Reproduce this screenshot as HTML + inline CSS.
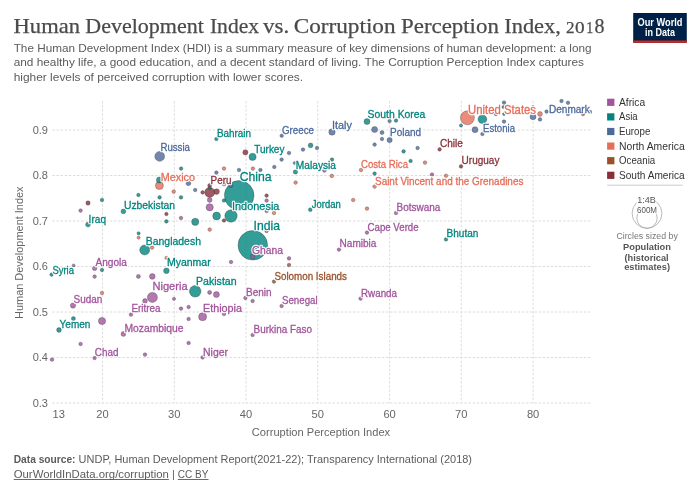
<!DOCTYPE html>
<html><head><meta charset="utf-8">
<style>
html,body{margin:0;padding:0;background:#fff;}
body{width:700px;height:494px;position:relative;overflow:hidden;}
svg{will-change:transform;}
</style></head><body>
<svg width="700" height="494" viewBox="0 0 700 494" style="position:absolute;left:0;top:0;display:block">
<text x="13.62" y="32.7" font-family="Liberation Serif, serif" fill="#4a4a4a" stroke="#4a4a4a" stroke-width="0.25" lengthAdjust="spacingAndGlyphs" font-size="22" textLength="66.29">Human</text>
<text x="85.34" y="32.7" font-family="Liberation Serif, serif" fill="#4a4a4a" stroke="#4a4a4a" stroke-width="0.25" lengthAdjust="spacingAndGlyphs" font-size="22" textLength="118.51">Development</text>
<text x="209.95" y="32.7" font-family="Liberation Serif, serif" fill="#4a4a4a" stroke="#4a4a4a" stroke-width="0.25" lengthAdjust="spacingAndGlyphs" font-size="22" textLength="49.11">Index</text>
<text x="263.1" y="32.7" font-family="Liberation Serif, serif" fill="#4a4a4a" stroke="#4a4a4a" stroke-width="0.25" lengthAdjust="spacingAndGlyphs" font-size="22" textLength="26.17">vs.</text>
<text x="293.67" y="32.7" font-family="Liberation Serif, serif" fill="#4a4a4a" stroke="#4a4a4a" stroke-width="0.25" lengthAdjust="spacingAndGlyphs" font-size="22" textLength="101.95">Corruption</text>
<text x="401.01" y="32.7" font-family="Liberation Serif, serif" fill="#4a4a4a" stroke="#4a4a4a" stroke-width="0.25" lengthAdjust="spacingAndGlyphs" font-size="22" textLength="97.86">Perception</text>
<text x="504.22" y="32.7" font-family="Liberation Serif, serif" fill="#4a4a4a" stroke="#4a4a4a" stroke-width="0.25" lengthAdjust="spacingAndGlyphs" font-size="22" textLength="56.67">Index,</text>
<text x="566" y="32.7" font-family="Liberation Serif, serif" fill="#4a4a4a" stroke="#4a4a4a" stroke-width="0.25" lengthAdjust="spacingAndGlyphs" font-size="16.5" textLength="8.6">2</text>
<text x="575" y="32.7" font-family="Liberation Serif, serif" fill="#4a4a4a" stroke="#4a4a4a" stroke-width="0.25" lengthAdjust="spacingAndGlyphs" font-size="16.5" textLength="9.6">0</text>
<text x="586.2" y="32.7" font-family="Liberation Serif, serif" fill="#4a4a4a" stroke="#4a4a4a" stroke-width="0.25" lengthAdjust="spacingAndGlyphs" font-size="16.5" textLength="7">1</text>
<text x="594.6" y="32.7" font-family="Liberation Serif, serif" fill="#4a4a4a" stroke="#4a4a4a" stroke-width="0.25" lengthAdjust="spacingAndGlyphs" font-size="22" textLength="10">8</text>
<text x="13.7" y="52.0" font-size="11.4" fill="#5b5b5b" textLength="577.8" lengthAdjust="spacingAndGlyphs" font-family="Liberation Sans, sans-serif">The Human Development Index (HDI) is a summary measure of key dimensions of human development: a long</text>
<text x="13.7" y="66.3" font-size="11.4" fill="#5b5b5b" textLength="570.3" lengthAdjust="spacingAndGlyphs" font-family="Liberation Sans, sans-serif">and healthy life, a good education, and a decent standard of living. The Corruption Perception Index captures</text>
<text x="13.7" y="80.9" font-size="11.4" fill="#5b5b5b" textLength="289.4" lengthAdjust="spacingAndGlyphs" font-family="Liberation Sans, sans-serif">higher levels of perceived corruption with lower scores.</text>
<rect x="633.2" y="13" width="53.6" height="29.8" fill="#002147"/>
<rect x="633.2" y="40.5" width="53.6" height="2.3" fill="#ce261e"/>
<text x="637.5" y="25.5" font-size="10.8" fill="#fff" font-weight="bold" textLength="45.0" lengthAdjust="spacingAndGlyphs" font-family="Liberation Sans, sans-serif">Our World</text>
<text x="645.0" y="35.6" font-size="10.8" fill="#fff" font-weight="bold" textLength="30.0" lengthAdjust="spacingAndGlyphs" font-family="Liberation Sans, sans-serif">in Data</text>
<g stroke="#dcdcdc" stroke-width="1" stroke-dasharray="2.47,1.65" fill="none"><line x1="52.3" y1="403.0" x2="590.5" y2="403.0"/><line x1="52.3" y1="357.5" x2="590.5" y2="357.5"/><line x1="52.3" y1="312.0" x2="590.5" y2="312.0"/><line x1="52.3" y1="266.5" x2="590.5" y2="266.5"/><line x1="52.3" y1="221.0" x2="590.5" y2="221.0"/><line x1="52.3" y1="175.5" x2="590.5" y2="175.5"/><line x1="52.3" y1="130.0" x2="590.5" y2="130.0"/><line x1="102.5" y1="101.0" x2="102.5" y2="403.1"/><line x1="174.3" y1="101.0" x2="174.3" y2="403.1"/><line x1="246.0" y1="101.0" x2="246.0" y2="403.1"/><line x1="317.8" y1="101.0" x2="317.8" y2="403.1"/><line x1="389.6" y1="101.0" x2="389.6" y2="403.1"/><line x1="461.3" y1="101.0" x2="461.3" y2="403.1"/><line x1="533.1" y1="101.0" x2="533.1" y2="403.1"/></g>
<g font-family="Liberation Sans, sans-serif"><text x="48.0" y="406.9" font-size="11" fill="#666" text-anchor="end" textLength="15.3" lengthAdjust="spacingAndGlyphs">0.3</text><text x="48.0" y="361.4" font-size="11" fill="#666" text-anchor="end" textLength="15.3" lengthAdjust="spacingAndGlyphs">0.4</text><text x="48.0" y="315.9" font-size="11" fill="#666" text-anchor="end" textLength="15.3" lengthAdjust="spacingAndGlyphs">0.5</text><text x="48.0" y="270.4" font-size="11" fill="#666" text-anchor="end" textLength="15.3" lengthAdjust="spacingAndGlyphs">0.6</text><text x="48.0" y="224.9" font-size="11" fill="#666" text-anchor="end" textLength="15.3" lengthAdjust="spacingAndGlyphs">0.7</text><text x="48.0" y="179.4" font-size="11" fill="#666" text-anchor="end" textLength="15.3" lengthAdjust="spacingAndGlyphs">0.8</text><text x="48.0" y="133.9" font-size="11" fill="#666" text-anchor="end" textLength="15.3" lengthAdjust="spacingAndGlyphs">0.9</text><text x="102.5" y="418.3" font-size="11" fill="#666" text-anchor="middle" textLength="12.4" lengthAdjust="spacingAndGlyphs">20</text><text x="174.3" y="418.3" font-size="11" fill="#666" text-anchor="middle" textLength="12.4" lengthAdjust="spacingAndGlyphs">30</text><text x="246.0" y="418.3" font-size="11" fill="#666" text-anchor="middle" textLength="12.4" lengthAdjust="spacingAndGlyphs">40</text><text x="317.8" y="418.3" font-size="11" fill="#666" text-anchor="middle" textLength="12.4" lengthAdjust="spacingAndGlyphs">50</text><text x="389.6" y="418.3" font-size="11" fill="#666" text-anchor="middle" textLength="12.4" lengthAdjust="spacingAndGlyphs">60</text><text x="461.3" y="418.3" font-size="11" fill="#666" text-anchor="middle" textLength="12.4" lengthAdjust="spacingAndGlyphs">70</text><text x="533.1" y="418.3" font-size="11" fill="#666" text-anchor="middle" textLength="12.4" lengthAdjust="spacingAndGlyphs">80</text><text x="52.6" y="418.3" font-size="11" fill="#666" textLength="12.4" lengthAdjust="spacingAndGlyphs">13</text></g>
<text x="321.0" y="435.5" font-size="11" fill="#666" text-anchor="middle" textLength="138.3" lengthAdjust="spacingAndGlyphs" font-family="Liberation Sans, sans-serif">Corruption Perception Index</text>
<text transform="translate(23.2,252.7) rotate(-90)" text-anchor="middle" font-family="Liberation Sans, sans-serif" font-size="11" fill="#666" textLength="132.5" lengthAdjust="spacingAndGlyphs">Human Development Index</text>
<g><circle cx="239.2" cy="195.4" r="14.8" fill="#00847e" fill-opacity="0.8" stroke="#333" stroke-opacity="0.55" stroke-width="0.6"/><circle cx="252.8" cy="245.3" r="14.8" fill="#00847e" fill-opacity="0.8" stroke="#333" stroke-opacity="0.55" stroke-width="0.6"/><circle cx="467.4" cy="117.8" r="7" fill="#e56e5a" fill-opacity="0.8" stroke="#333" stroke-opacity="0.55" stroke-width="0.6"/><circle cx="231" cy="216" r="6.2" fill="#00847e" fill-opacity="0.8" stroke="#333" stroke-opacity="0.55" stroke-width="0.6"/><circle cx="195.2" cy="291.3" r="5.8" fill="#00847e" fill-opacity="0.8" stroke="#333" stroke-opacity="0.55" stroke-width="0.6"/><circle cx="152.4" cy="297.4" r="5" fill="#a2559c" fill-opacity="0.8" stroke="#333" stroke-opacity="0.55" stroke-width="0.6"/><circle cx="144.7" cy="250" r="5" fill="#00847e" fill-opacity="0.8" stroke="#333" stroke-opacity="0.55" stroke-width="0.6"/><circle cx="209.7" cy="192.4" r="5" fill="#883039" fill-opacity="0.8" stroke="#333" stroke-opacity="0.55" stroke-width="0.6"/><circle cx="159.7" cy="156.4" r="4.9" fill="#4c6a9c" fill-opacity="0.8" stroke="#333" stroke-opacity="0.55" stroke-width="0.6"/><circle cx="482.4" cy="119.2" r="4.4" fill="#00847e" fill-opacity="0.8" stroke="#333" stroke-opacity="0.55" stroke-width="0.6"/><circle cx="202.6" cy="316.8" r="4" fill="#a2559c" fill-opacity="0.8" stroke="#333" stroke-opacity="0.55" stroke-width="0.6"/><circle cx="159.4" cy="185.6" r="4" fill="#e56e5a" fill-opacity="0.8" stroke="#333" stroke-opacity="0.55" stroke-width="0.6"/><circle cx="216.6" cy="216" r="3.9" fill="#00847e" fill-opacity="0.8" stroke="#333" stroke-opacity="0.55" stroke-width="0.6"/><circle cx="102" cy="321" r="3.6" fill="#a2559c" fill-opacity="0.8" stroke="#333" stroke-opacity="0.55" stroke-width="0.6"/><circle cx="209.7" cy="207.3" r="3.6" fill="#a2559c" fill-opacity="0.8" stroke="#333" stroke-opacity="0.55" stroke-width="0.6"/><circle cx="252.6" cy="156.9" r="3.6" fill="#00847e" fill-opacity="0.8" stroke="#333" stroke-opacity="0.55" stroke-width="0.6"/><circle cx="195.2" cy="221.8" r="3.6" fill="#00847e" fill-opacity="0.8" stroke="#333" stroke-opacity="0.55" stroke-width="0.6"/><circle cx="332" cy="132" r="3.2" fill="#4c6a9c" fill-opacity="0.8" stroke="#333" stroke-opacity="0.55" stroke-width="0.6"/><circle cx="216.4" cy="294.6" r="3" fill="#a2559c" fill-opacity="0.8" stroke="#333" stroke-opacity="0.55" stroke-width="0.6"/><circle cx="159.4" cy="180" r="3" fill="#00847e" fill-opacity="0.8" stroke="#333" stroke-opacity="0.55" stroke-width="0.6"/><circle cx="367" cy="121.6" r="3" fill="#00847e" fill-opacity="0.8" stroke="#333" stroke-opacity="0.55" stroke-width="0.6"/><circle cx="374.6" cy="129.6" r="3" fill="#4c6a9c" fill-opacity="0.8" stroke="#333" stroke-opacity="0.55" stroke-width="0.6"/><circle cx="475" cy="129.7" r="3" fill="#4c6a9c" fill-opacity="0.8" stroke="#333" stroke-opacity="0.55" stroke-width="0.6"/><circle cx="533" cy="116.8" r="3" fill="#4c6a9c" fill-opacity="0.8" stroke="#333" stroke-opacity="0.55" stroke-width="0.6"/><circle cx="152.3" cy="276.4" r="2.8" fill="#a2559c" fill-opacity="0.8" stroke="#333" stroke-opacity="0.55" stroke-width="0.6"/><circle cx="166.4" cy="270.7" r="2.8" fill="#00847e" fill-opacity="0.8" stroke="#333" stroke-opacity="0.55" stroke-width="0.6"/><circle cx="216.6" cy="191.6" r="2.8" fill="#883039" fill-opacity="0.8" stroke="#333" stroke-opacity="0.55" stroke-width="0.6"/><circle cx="73" cy="305.6" r="2.6" fill="#a2559c" fill-opacity="0.8" stroke="#333" stroke-opacity="0.55" stroke-width="0.6"/><circle cx="389.6" cy="140" r="2.6" fill="#4c6a9c" fill-opacity="0.8" stroke="#333" stroke-opacity="0.55" stroke-width="0.6"/><circle cx="245.4" cy="152.3" r="2.6" fill="#883039" fill-opacity="0.8" stroke="#333" stroke-opacity="0.55" stroke-width="0.6"/><circle cx="145" cy="301" r="2.4" fill="#a2559c" fill-opacity="0.8" stroke="#333" stroke-opacity="0.55" stroke-width="0.6"/><circle cx="123.4" cy="334" r="2.4" fill="#a2559c" fill-opacity="0.8" stroke="#333" stroke-opacity="0.55" stroke-width="0.6"/><circle cx="209.7" cy="200" r="2.4" fill="#a2559c" fill-opacity="0.8" stroke="#333" stroke-opacity="0.55" stroke-width="0.6"/><circle cx="123.4" cy="211.4" r="2.4" fill="#00847e" fill-opacity="0.8" stroke="#333" stroke-opacity="0.55" stroke-width="0.6"/><circle cx="88" cy="224.6" r="2.4" fill="#00847e" fill-opacity="0.8" stroke="#333" stroke-opacity="0.55" stroke-width="0.6"/><circle cx="59" cy="330" r="2.4" fill="#00847e" fill-opacity="0.8" stroke="#333" stroke-opacity="0.55" stroke-width="0.6"/><circle cx="310.6" cy="145.4" r="2.4" fill="#00847e" fill-opacity="0.8" stroke="#333" stroke-opacity="0.55" stroke-width="0.6"/><circle cx="188.4" cy="183.3" r="2.4" fill="#4c6a9c" fill-opacity="0.8" stroke="#333" stroke-opacity="0.55" stroke-width="0.6"/><circle cx="540" cy="114" r="2.4" fill="#e56e5a" fill-opacity="0.8" stroke="#333" stroke-opacity="0.55" stroke-width="0.6"/><circle cx="94.6" cy="268.4" r="2.2" fill="#a2559c" fill-opacity="0.8" stroke="#333" stroke-opacity="0.55" stroke-width="0.6"/><circle cx="252.6" cy="256.6" r="2.2" fill="#a2559c" fill-opacity="0.8" stroke="#333" stroke-opacity="0.55" stroke-width="0.6"/><circle cx="295.4" cy="171.9" r="2.2" fill="#00847e" fill-opacity="0.8" stroke="#333" stroke-opacity="0.55" stroke-width="0.6"/><circle cx="88" cy="203" r="2.2" fill="#883039" fill-opacity="0.8" stroke="#333" stroke-opacity="0.55" stroke-width="0.6"/><circle cx="138.4" cy="276.4" r="2" fill="#a2559c" fill-opacity="0.8" stroke="#333" stroke-opacity="0.55" stroke-width="0.6"/><circle cx="209.6" cy="292.4" r="2" fill="#a2559c" fill-opacity="0.8" stroke="#333" stroke-opacity="0.55" stroke-width="0.6"/><circle cx="73.4" cy="318.6" r="2" fill="#00847e" fill-opacity="0.8" stroke="#333" stroke-opacity="0.55" stroke-width="0.6"/><circle cx="382" cy="132.6" r="2" fill="#4c6a9c" fill-opacity="0.8" stroke="#333" stroke-opacity="0.55" stroke-width="0.6"/><circle cx="209.7" cy="185.6" r="2" fill="#883039" fill-opacity="0.8" stroke="#333" stroke-opacity="0.55" stroke-width="0.6"/><circle cx="310.3" cy="209.7" r="1.9" fill="#00847e" fill-opacity="0.8" stroke="#333" stroke-opacity="0.55" stroke-width="0.6"/><circle cx="80.6" cy="210.6" r="1.8" fill="#a2559c" fill-opacity="0.8" stroke="#333" stroke-opacity="0.55" stroke-width="0.6"/><circle cx="181" cy="218" r="1.8" fill="#a2559c" fill-opacity="0.8" stroke="#333" stroke-opacity="0.55" stroke-width="0.6"/><circle cx="94.6" cy="276.6" r="1.8" fill="#a2559c" fill-opacity="0.8" stroke="#333" stroke-opacity="0.55" stroke-width="0.6"/><circle cx="131" cy="314.6" r="1.8" fill="#a2559c" fill-opacity="0.8" stroke="#333" stroke-opacity="0.55" stroke-width="0.6"/><circle cx="181" cy="308.6" r="1.8" fill="#a2559c" fill-opacity="0.8" stroke="#333" stroke-opacity="0.55" stroke-width="0.6"/><circle cx="188.6" cy="307" r="1.8" fill="#a2559c" fill-opacity="0.8" stroke="#333" stroke-opacity="0.55" stroke-width="0.6"/><circle cx="188.6" cy="319" r="1.8" fill="#a2559c" fill-opacity="0.8" stroke="#333" stroke-opacity="0.55" stroke-width="0.6"/><circle cx="80.6" cy="344" r="1.8" fill="#a2559c" fill-opacity="0.8" stroke="#333" stroke-opacity="0.55" stroke-width="0.6"/><circle cx="188.6" cy="343" r="1.8" fill="#a2559c" fill-opacity="0.8" stroke="#333" stroke-opacity="0.55" stroke-width="0.6"/><circle cx="94.6" cy="358" r="1.8" fill="#a2559c" fill-opacity="0.8" stroke="#333" stroke-opacity="0.55" stroke-width="0.6"/><circle cx="145" cy="354.6" r="1.8" fill="#a2559c" fill-opacity="0.8" stroke="#333" stroke-opacity="0.55" stroke-width="0.6"/><circle cx="52" cy="359.6" r="1.8" fill="#a2559c" fill-opacity="0.8" stroke="#333" stroke-opacity="0.55" stroke-width="0.6"/><circle cx="266.6" cy="200.6" r="1.8" fill="#a2559c" fill-opacity="0.8" stroke="#333" stroke-opacity="0.55" stroke-width="0.6"/><circle cx="266.6" cy="211" r="1.8" fill="#a2559c" fill-opacity="0.8" stroke="#333" stroke-opacity="0.55" stroke-width="0.6"/><circle cx="231" cy="262" r="1.8" fill="#a2559c" fill-opacity="0.8" stroke="#333" stroke-opacity="0.55" stroke-width="0.6"/><circle cx="289" cy="258.4" r="1.8" fill="#a2559c" fill-opacity="0.8" stroke="#333" stroke-opacity="0.55" stroke-width="0.6"/><circle cx="245.4" cy="298" r="1.8" fill="#a2559c" fill-opacity="0.8" stroke="#333" stroke-opacity="0.55" stroke-width="0.6"/><circle cx="252.6" cy="301" r="1.8" fill="#a2559c" fill-opacity="0.8" stroke="#333" stroke-opacity="0.55" stroke-width="0.6"/><circle cx="281.6" cy="306" r="1.8" fill="#a2559c" fill-opacity="0.8" stroke="#333" stroke-opacity="0.55" stroke-width="0.6"/><circle cx="224" cy="314" r="1.8" fill="#a2559c" fill-opacity="0.8" stroke="#333" stroke-opacity="0.55" stroke-width="0.6"/><circle cx="252.6" cy="335" r="1.8" fill="#a2559c" fill-opacity="0.8" stroke="#333" stroke-opacity="0.55" stroke-width="0.6"/><circle cx="202.6" cy="357.4" r="1.8" fill="#a2559c" fill-opacity="0.8" stroke="#333" stroke-opacity="0.55" stroke-width="0.6"/><circle cx="324.4" cy="170.6" r="1.8" fill="#a2559c" fill-opacity="0.8" stroke="#333" stroke-opacity="0.55" stroke-width="0.6"/><circle cx="432" cy="174.6" r="1.8" fill="#a2559c" fill-opacity="0.8" stroke="#333" stroke-opacity="0.55" stroke-width="0.6"/><circle cx="396" cy="213" r="1.8" fill="#a2559c" fill-opacity="0.8" stroke="#333" stroke-opacity="0.55" stroke-width="0.6"/><circle cx="367" cy="232.6" r="1.8" fill="#a2559c" fill-opacity="0.8" stroke="#333" stroke-opacity="0.55" stroke-width="0.6"/><circle cx="339" cy="249.6" r="1.8" fill="#a2559c" fill-opacity="0.8" stroke="#333" stroke-opacity="0.55" stroke-width="0.6"/><circle cx="360.6" cy="298.6" r="1.8" fill="#a2559c" fill-opacity="0.8" stroke="#333" stroke-opacity="0.55" stroke-width="0.6"/><circle cx="266.6" cy="231" r="1.8" fill="#a2559c" fill-opacity="0.8" stroke="#333" stroke-opacity="0.55" stroke-width="0.6"/><circle cx="181.1" cy="168.6" r="1.8" fill="#00847e" fill-opacity="0.8" stroke="#333" stroke-opacity="0.55" stroke-width="0.6"/><circle cx="138.4" cy="195" r="1.8" fill="#00847e" fill-opacity="0.8" stroke="#333" stroke-opacity="0.55" stroke-width="0.6"/><circle cx="159.6" cy="197.4" r="1.8" fill="#00847e" fill-opacity="0.8" stroke="#333" stroke-opacity="0.55" stroke-width="0.6"/><circle cx="181" cy="197.4" r="1.8" fill="#00847e" fill-opacity="0.8" stroke="#333" stroke-opacity="0.55" stroke-width="0.6"/><circle cx="102" cy="200" r="1.8" fill="#00847e" fill-opacity="0.8" stroke="#333" stroke-opacity="0.55" stroke-width="0.6"/><circle cx="166.4" cy="221.4" r="1.8" fill="#00847e" fill-opacity="0.8" stroke="#333" stroke-opacity="0.55" stroke-width="0.6"/><circle cx="51.6" cy="274.6" r="1.8" fill="#00847e" fill-opacity="0.8" stroke="#333" stroke-opacity="0.55" stroke-width="0.6"/><circle cx="102" cy="270" r="1.8" fill="#00847e" fill-opacity="0.8" stroke="#333" stroke-opacity="0.55" stroke-width="0.6"/><circle cx="216.4" cy="139" r="1.8" fill="#00847e" fill-opacity="0.8" stroke="#333" stroke-opacity="0.55" stroke-width="0.6"/><circle cx="224" cy="200.5" r="1.8" fill="#00847e" fill-opacity="0.8" stroke="#333" stroke-opacity="0.55" stroke-width="0.6"/><circle cx="396" cy="120.6" r="1.8" fill="#00847e" fill-opacity="0.8" stroke="#333" stroke-opacity="0.55" stroke-width="0.6"/><circle cx="403.6" cy="151.4" r="1.8" fill="#00847e" fill-opacity="0.8" stroke="#333" stroke-opacity="0.55" stroke-width="0.6"/><circle cx="332" cy="159.6" r="1.8" fill="#00847e" fill-opacity="0.8" stroke="#333" stroke-opacity="0.55" stroke-width="0.6"/><circle cx="410.6" cy="161" r="1.8" fill="#00847e" fill-opacity="0.8" stroke="#333" stroke-opacity="0.55" stroke-width="0.6"/><circle cx="374.6" cy="173.6" r="1.8" fill="#00847e" fill-opacity="0.8" stroke="#333" stroke-opacity="0.55" stroke-width="0.6"/><circle cx="446" cy="239.4" r="1.8" fill="#00847e" fill-opacity="0.8" stroke="#333" stroke-opacity="0.55" stroke-width="0.6"/><circle cx="195.2" cy="190" r="1.8" fill="#4c6a9c" fill-opacity="0.8" stroke="#333" stroke-opacity="0.55" stroke-width="0.6"/><circle cx="216.4" cy="172.6" r="1.8" fill="#4c6a9c" fill-opacity="0.8" stroke="#333" stroke-opacity="0.55" stroke-width="0.6"/><circle cx="239" cy="170" r="1.8" fill="#4c6a9c" fill-opacity="0.8" stroke="#333" stroke-opacity="0.55" stroke-width="0.6"/><circle cx="260.4" cy="170" r="1.8" fill="#4c6a9c" fill-opacity="0.8" stroke="#333" stroke-opacity="0.55" stroke-width="0.6"/><circle cx="274.3" cy="167" r="1.8" fill="#4c6a9c" fill-opacity="0.8" stroke="#333" stroke-opacity="0.55" stroke-width="0.6"/><circle cx="224" cy="184.2" r="1.8" fill="#4c6a9c" fill-opacity="0.8" stroke="#333" stroke-opacity="0.55" stroke-width="0.6"/><circle cx="231" cy="185.8" r="1.8" fill="#4c6a9c" fill-opacity="0.8" stroke="#333" stroke-opacity="0.55" stroke-width="0.6"/><circle cx="281.7" cy="135.7" r="1.8" fill="#4c6a9c" fill-opacity="0.8" stroke="#333" stroke-opacity="0.55" stroke-width="0.6"/><circle cx="289" cy="153" r="1.8" fill="#4c6a9c" fill-opacity="0.8" stroke="#333" stroke-opacity="0.55" stroke-width="0.6"/><circle cx="303" cy="149.6" r="1.8" fill="#4c6a9c" fill-opacity="0.8" stroke="#333" stroke-opacity="0.55" stroke-width="0.6"/><circle cx="317" cy="148" r="1.8" fill="#4c6a9c" fill-opacity="0.8" stroke="#333" stroke-opacity="0.55" stroke-width="0.6"/><circle cx="281.6" cy="159.6" r="1.8" fill="#4c6a9c" fill-opacity="0.8" stroke="#333" stroke-opacity="0.55" stroke-width="0.6"/><circle cx="382" cy="139" r="1.8" fill="#4c6a9c" fill-opacity="0.8" stroke="#333" stroke-opacity="0.55" stroke-width="0.6"/><circle cx="374.6" cy="144.6" r="1.8" fill="#4c6a9c" fill-opacity="0.8" stroke="#333" stroke-opacity="0.55" stroke-width="0.6"/><circle cx="389.6" cy="121" r="1.8" fill="#4c6a9c" fill-opacity="0.8" stroke="#333" stroke-opacity="0.55" stroke-width="0.6"/><circle cx="417.6" cy="148" r="1.8" fill="#4c6a9c" fill-opacity="0.8" stroke="#333" stroke-opacity="0.55" stroke-width="0.6"/><circle cx="482.4" cy="134" r="1.8" fill="#4c6a9c" fill-opacity="0.8" stroke="#333" stroke-opacity="0.55" stroke-width="0.6"/><circle cx="504" cy="102.6" r="1.8" fill="#4c6a9c" fill-opacity="0.8" stroke="#333" stroke-opacity="0.55" stroke-width="0.6"/><circle cx="504" cy="121.6" r="1.8" fill="#4c6a9c" fill-opacity="0.8" stroke="#333" stroke-opacity="0.55" stroke-width="0.6"/><circle cx="496" cy="114" r="1.8" fill="#4c6a9c" fill-opacity="0.8" stroke="#333" stroke-opacity="0.55" stroke-width="0.6"/><circle cx="540" cy="119.4" r="1.8" fill="#4c6a9c" fill-opacity="0.8" stroke="#333" stroke-opacity="0.55" stroke-width="0.6"/><circle cx="546.6" cy="111.6" r="1.8" fill="#4c6a9c" fill-opacity="0.8" stroke="#333" stroke-opacity="0.55" stroke-width="0.6"/><circle cx="561.5" cy="101" r="1.8" fill="#4c6a9c" fill-opacity="0.8" stroke="#333" stroke-opacity="0.55" stroke-width="0.6"/><circle cx="568" cy="102.8" r="1.8" fill="#4c6a9c" fill-opacity="0.8" stroke="#333" stroke-opacity="0.55" stroke-width="0.6"/><circle cx="568" cy="114" r="1.8" fill="#4c6a9c" fill-opacity="0.8" stroke="#333" stroke-opacity="0.55" stroke-width="0.6"/><circle cx="590" cy="112" r="1.8" fill="#4c6a9c" fill-opacity="0.8" stroke="#333" stroke-opacity="0.55" stroke-width="0.6"/><circle cx="173.7" cy="191.6" r="1.8" fill="#e56e5a" fill-opacity="0.8" stroke="#333" stroke-opacity="0.55" stroke-width="0.6"/><circle cx="152.1" cy="247.6" r="1.8" fill="#e56e5a" fill-opacity="0.8" stroke="#333" stroke-opacity="0.55" stroke-width="0.6"/><circle cx="102" cy="293" r="1.8" fill="#e56e5a" fill-opacity="0.8" stroke="#333" stroke-opacity="0.55" stroke-width="0.6"/><circle cx="224" cy="168.6" r="1.8" fill="#e56e5a" fill-opacity="0.8" stroke="#333" stroke-opacity="0.55" stroke-width="0.6"/><circle cx="252.9" cy="168.6" r="1.8" fill="#e56e5a" fill-opacity="0.8" stroke="#333" stroke-opacity="0.55" stroke-width="0.6"/><circle cx="295.6" cy="182.6" r="1.8" fill="#e56e5a" fill-opacity="0.8" stroke="#333" stroke-opacity="0.55" stroke-width="0.6"/><circle cx="209.7" cy="229.6" r="1.8" fill="#e56e5a" fill-opacity="0.8" stroke="#333" stroke-opacity="0.55" stroke-width="0.6"/><circle cx="274" cy="213" r="1.8" fill="#e56e5a" fill-opacity="0.8" stroke="#333" stroke-opacity="0.55" stroke-width="0.6"/><circle cx="425" cy="162.6" r="1.8" fill="#e56e5a" fill-opacity="0.8" stroke="#333" stroke-opacity="0.55" stroke-width="0.6"/><circle cx="361" cy="170" r="1.8" fill="#e56e5a" fill-opacity="0.8" stroke="#333" stroke-opacity="0.55" stroke-width="0.6"/><circle cx="331.8" cy="175.9" r="1.8" fill="#e56e5a" fill-opacity="0.8" stroke="#333" stroke-opacity="0.55" stroke-width="0.6"/><circle cx="446" cy="175.8" r="1.8" fill="#e56e5a" fill-opacity="0.8" stroke="#333" stroke-opacity="0.55" stroke-width="0.6"/><circle cx="374.6" cy="186.6" r="1.8" fill="#e56e5a" fill-opacity="0.8" stroke="#333" stroke-opacity="0.55" stroke-width="0.6"/><circle cx="353.2" cy="200" r="1.8" fill="#e56e5a" fill-opacity="0.8" stroke="#333" stroke-opacity="0.55" stroke-width="0.6"/><circle cx="367" cy="208.6" r="1.8" fill="#e56e5a" fill-opacity="0.8" stroke="#333" stroke-opacity="0.55" stroke-width="0.6"/><circle cx="289" cy="265" r="1.8" fill="#9a5129" fill-opacity="0.8" stroke="#333" stroke-opacity="0.55" stroke-width="0.6"/><circle cx="274" cy="281.6" r="1.8" fill="#9a5129" fill-opacity="0.8" stroke="#333" stroke-opacity="0.55" stroke-width="0.6"/><circle cx="583" cy="114" r="1.8" fill="#9a5129" fill-opacity="0.8" stroke="#333" stroke-opacity="0.55" stroke-width="0.6"/><circle cx="166.4" cy="214" r="1.8" fill="#883039" fill-opacity="0.8" stroke="#333" stroke-opacity="0.55" stroke-width="0.6"/><circle cx="202.6" cy="192.4" r="1.8" fill="#883039" fill-opacity="0.8" stroke="#333" stroke-opacity="0.55" stroke-width="0.6"/><circle cx="224" cy="220.5" r="1.8" fill="#883039" fill-opacity="0.8" stroke="#333" stroke-opacity="0.55" stroke-width="0.6"/><circle cx="266.6" cy="195.6" r="1.8" fill="#883039" fill-opacity="0.8" stroke="#333" stroke-opacity="0.55" stroke-width="0.6"/><circle cx="439.6" cy="149.4" r="1.8" fill="#883039" fill-opacity="0.8" stroke="#333" stroke-opacity="0.55" stroke-width="0.6"/><circle cx="461" cy="166.4" r="1.8" fill="#883039" fill-opacity="0.8" stroke="#333" stroke-opacity="0.55" stroke-width="0.6"/><circle cx="174" cy="298.8" r="1.6" fill="#a2559c" fill-opacity="0.8" stroke="#333" stroke-opacity="0.55" stroke-width="0.6"/><circle cx="138.6" cy="233.3" r="1.6" fill="#00847e" fill-opacity="0.8" stroke="#333" stroke-opacity="0.55" stroke-width="0.6"/><circle cx="461" cy="125.5" r="1.6" fill="#00847e" fill-opacity="0.8" stroke="#333" stroke-opacity="0.55" stroke-width="0.6"/><circle cx="138.6" cy="237.6" r="1.6" fill="#e56e5a" fill-opacity="0.8" stroke="#333" stroke-opacity="0.55" stroke-width="0.6"/><circle cx="166.4" cy="257.9" r="1.6" fill="#e56e5a" fill-opacity="0.8" stroke="#333" stroke-opacity="0.55" stroke-width="0.6"/><circle cx="73.6" cy="265.4" r="1.5" fill="#a2559c" fill-opacity="0.8" stroke="#333" stroke-opacity="0.55" stroke-width="0.6"/><circle cx="209.7" cy="188" r="1.5" fill="#00847e" fill-opacity="0.8" stroke="#333" stroke-opacity="0.55" stroke-width="0.6"/><circle cx="503.4" cy="107" r="1.5" fill="#00847e" fill-opacity="0.8" stroke="#333" stroke-opacity="0.55" stroke-width="0.6"/><circle cx="504" cy="114" r="1.5" fill="#00847e" fill-opacity="0.8" stroke="#333" stroke-opacity="0.55" stroke-width="0.6"/><circle cx="533" cy="107" r="1.5" fill="#4c6a9c" fill-opacity="0.8" stroke="#333" stroke-opacity="0.55" stroke-width="0.6"/><circle cx="294.6" cy="163" r="1.5" fill="#4c6a9c" fill-opacity="0.8" stroke="#333" stroke-opacity="0.55" stroke-width="0.6"/></g>
<g font-family="Liberation Sans, sans-serif"><text x="160.4" y="151" font-size="10.5" fill="#fff" stroke="#fff" stroke-width="2.4" stroke-linejoin="round" textLength="29.6" lengthAdjust="spacingAndGlyphs">Russia</text><text x="160.4" y="151" font-size="10.5" fill="#4c6a9c" stroke="#4c6a9c" stroke-width="0.3" textLength="29.6" lengthAdjust="spacingAndGlyphs">Russia</text><text x="160.7" y="181.0" font-size="11" fill="#fff" stroke="#fff" stroke-width="2.4" stroke-linejoin="round" textLength="34.3" lengthAdjust="spacingAndGlyphs">Mexico</text><text x="160.7" y="181.0" font-size="11" fill="#e56e5a" stroke="#e56e5a" stroke-width="0.3" textLength="34.3" lengthAdjust="spacingAndGlyphs">Mexico</text><text x="124" y="208.9" font-size="11" fill="#fff" stroke="#fff" stroke-width="2.4" stroke-linejoin="round" textLength="51.0" lengthAdjust="spacingAndGlyphs">Uzbekistan</text><text x="124" y="208.9" font-size="11" fill="#00847e" stroke="#00847e" stroke-width="0.3" textLength="51.0" lengthAdjust="spacingAndGlyphs">Uzbekistan</text><text x="88.6" y="222.5" font-size="10.5" fill="#fff" stroke="#fff" stroke-width="2.4" stroke-linejoin="round" textLength="17.4" lengthAdjust="spacingAndGlyphs">Iraq</text><text x="88.6" y="222.5" font-size="10.5" fill="#00847e" stroke="#00847e" stroke-width="0.3" textLength="17.4" lengthAdjust="spacingAndGlyphs">Iraq</text><text x="145.7" y="244.8" font-size="11" fill="#fff" stroke="#fff" stroke-width="2.4" stroke-linejoin="round" textLength="55.3" lengthAdjust="spacingAndGlyphs">Bangladesh</text><text x="145.7" y="244.8" font-size="11" fill="#00847e" stroke="#00847e" stroke-width="0.3" textLength="55.3" lengthAdjust="spacingAndGlyphs">Bangladesh</text><text x="52.4" y="273.5" font-size="10.5" fill="#fff" stroke="#fff" stroke-width="2.4" stroke-linejoin="round" textLength="21.6" lengthAdjust="spacingAndGlyphs">Syria</text><text x="52.4" y="273.5" font-size="10.5" fill="#00847e" stroke="#00847e" stroke-width="0.3" textLength="21.6" lengthAdjust="spacingAndGlyphs">Syria</text><text x="95.4" y="265.5" font-size="10.5" fill="#fff" stroke="#fff" stroke-width="2.4" stroke-linejoin="round" textLength="31.6" lengthAdjust="spacingAndGlyphs">Angola</text><text x="95.4" y="265.5" font-size="10.5" fill="#a2559c" stroke="#a2559c" stroke-width="0.3" textLength="31.6" lengthAdjust="spacingAndGlyphs">Angola</text><text x="166.9" y="266.2" font-size="10.5" fill="#fff" stroke="#fff" stroke-width="2.4" stroke-linejoin="round" textLength="43.8" lengthAdjust="spacingAndGlyphs">Myanmar</text><text x="166.9" y="266.2" font-size="10.5" fill="#00847e" stroke="#00847e" stroke-width="0.3" textLength="43.8" lengthAdjust="spacingAndGlyphs">Myanmar</text><text x="152.4" y="290.4" font-size="10.9" fill="#fff" stroke="#fff" stroke-width="2.4" stroke-linejoin="round" textLength="35.2" lengthAdjust="spacingAndGlyphs">Nigeria</text><text x="152.4" y="290.4" font-size="10.9" fill="#a2559c" stroke="#a2559c" stroke-width="0.3" textLength="35.2" lengthAdjust="spacingAndGlyphs">Nigeria</text><text x="73.6" y="302.5" font-size="10.5" fill="#fff" stroke="#fff" stroke-width="2.4" stroke-linejoin="round" textLength="28.8" lengthAdjust="spacingAndGlyphs">Sudan</text><text x="73.6" y="302.5" font-size="10.5" fill="#a2559c" stroke="#a2559c" stroke-width="0.3" textLength="28.8" lengthAdjust="spacingAndGlyphs">Sudan</text><text x="131.4" y="312.1" font-size="10.5" fill="#fff" stroke="#fff" stroke-width="2.4" stroke-linejoin="round" textLength="29.0" lengthAdjust="spacingAndGlyphs">Eritrea</text><text x="131.4" y="312.1" font-size="10.5" fill="#a2559c" stroke="#a2559c" stroke-width="0.3" textLength="29.0" lengthAdjust="spacingAndGlyphs">Eritrea</text><text x="59.6" y="327.5" font-size="10.5" fill="#fff" stroke="#fff" stroke-width="2.4" stroke-linejoin="round" textLength="30.8" lengthAdjust="spacingAndGlyphs">Yemen</text><text x="59.6" y="327.5" font-size="10.5" fill="#00847e" stroke="#00847e" stroke-width="0.3" textLength="30.8" lengthAdjust="spacingAndGlyphs">Yemen</text><text x="124.4" y="332.1" font-size="10.5" fill="#fff" stroke="#fff" stroke-width="2.4" stroke-linejoin="round" textLength="59.2" lengthAdjust="spacingAndGlyphs">Mozambique</text><text x="124.4" y="332.1" font-size="10.5" fill="#a2559c" stroke="#a2559c" stroke-width="0.3" textLength="59.2" lengthAdjust="spacingAndGlyphs">Mozambique</text><text x="94.8" y="355.9" font-size="10.5" fill="#fff" stroke="#fff" stroke-width="2.4" stroke-linejoin="round" textLength="23.6" lengthAdjust="spacingAndGlyphs">Chad</text><text x="94.8" y="355.9" font-size="10.5" fill="#a2559c" stroke="#a2559c" stroke-width="0.3" textLength="23.6" lengthAdjust="spacingAndGlyphs">Chad</text><text x="217" y="136.6" font-size="10.5" fill="#fff" stroke="#fff" stroke-width="2.4" stroke-linejoin="round" textLength="34.0" lengthAdjust="spacingAndGlyphs">Bahrain</text><text x="217" y="136.6" font-size="10.5" fill="#00847e" stroke="#00847e" stroke-width="0.3" textLength="34.0" lengthAdjust="spacingAndGlyphs">Bahrain</text><text x="282" y="133.5" font-size="10.5" fill="#fff" stroke="#fff" stroke-width="2.4" stroke-linejoin="round" textLength="32.0" lengthAdjust="spacingAndGlyphs">Greece</text><text x="282" y="133.5" font-size="10.5" fill="#4c6a9c" stroke="#4c6a9c" stroke-width="0.3" textLength="32.0" lengthAdjust="spacingAndGlyphs">Greece</text><text x="254.3" y="153.4" font-size="10.9" fill="#fff" stroke="#fff" stroke-width="2.4" stroke-linejoin="round" textLength="30.1" lengthAdjust="spacingAndGlyphs">Turkey</text><text x="254.3" y="153.4" font-size="10.9" fill="#00847e" stroke="#00847e" stroke-width="0.3" textLength="30.1" lengthAdjust="spacingAndGlyphs">Turkey</text><text x="295.8" y="169.3" font-size="10.5" fill="#fff" stroke="#fff" stroke-width="2.4" stroke-linejoin="round" textLength="40.2" lengthAdjust="spacingAndGlyphs">Malaysia</text><text x="295.8" y="169.3" font-size="10.5" fill="#00847e" stroke="#00847e" stroke-width="0.3" textLength="40.2" lengthAdjust="spacingAndGlyphs">Malaysia</text><text x="239.7" y="180.5" font-size="13.3" fill="#fff" stroke="#fff" stroke-width="2.4" stroke-linejoin="round" textLength="31.9" lengthAdjust="spacingAndGlyphs">China</text><text x="239.7" y="180.5" font-size="13.3" fill="#00847e" stroke="#00847e" stroke-width="0.3" textLength="31.9" lengthAdjust="spacingAndGlyphs">China</text><text x="210.6" y="183.6" font-size="10.5" fill="#fff" stroke="#fff" stroke-width="2.4" stroke-linejoin="round" textLength="20.8" lengthAdjust="spacingAndGlyphs">Peru</text><text x="210.6" y="183.6" font-size="10.5" fill="#883039" stroke="#883039" stroke-width="0.3" textLength="20.8" lengthAdjust="spacingAndGlyphs">Peru</text><text x="232" y="209.5" font-size="11.8" fill="#fff" stroke="#fff" stroke-width="2.4" stroke-linejoin="round" textLength="47.4" lengthAdjust="spacingAndGlyphs">Indonesia</text><text x="232" y="209.5" font-size="11.8" fill="#00847e" stroke="#00847e" stroke-width="0.3" textLength="47.4" lengthAdjust="spacingAndGlyphs">Indonesia</text><text x="253.6" y="229.9" font-size="13.3" fill="#fff" stroke="#fff" stroke-width="2.4" stroke-linejoin="round" textLength="26.4" lengthAdjust="spacingAndGlyphs">India</text><text x="253.6" y="229.9" font-size="13.3" fill="#00847e" stroke="#00847e" stroke-width="0.3" textLength="26.4" lengthAdjust="spacingAndGlyphs">India</text><text x="252" y="254.1" font-size="10.5" fill="#fff" stroke="#fff" stroke-width="2.4" stroke-linejoin="round" textLength="31.0" lengthAdjust="spacingAndGlyphs">Ghana</text><text x="252" y="254.1" font-size="10.5" fill="#a2559c" stroke="#a2559c" stroke-width="0.3" textLength="31.0" lengthAdjust="spacingAndGlyphs">Ghana</text><text x="274.4" y="279.5" font-size="10.5" fill="#fff" stroke="#fff" stroke-width="2.4" stroke-linejoin="round" textLength="72.6" lengthAdjust="spacingAndGlyphs">Solomon Islands</text><text x="274.4" y="279.5" font-size="10.5" fill="#9a5129" stroke="#9a5129" stroke-width="0.3" textLength="72.6" lengthAdjust="spacingAndGlyphs">Solomon Islands</text><text x="196" y="285.1" font-size="10.5" fill="#fff" stroke="#fff" stroke-width="2.4" stroke-linejoin="round" textLength="40.6" lengthAdjust="spacingAndGlyphs">Pakistan</text><text x="196" y="285.1" font-size="10.5" fill="#00847e" stroke="#00847e" stroke-width="0.3" textLength="40.6" lengthAdjust="spacingAndGlyphs">Pakistan</text><text x="246" y="295.9" font-size="10.5" fill="#fff" stroke="#fff" stroke-width="2.4" stroke-linejoin="round" textLength="25.6" lengthAdjust="spacingAndGlyphs">Benin</text><text x="246" y="295.9" font-size="10.5" fill="#a2559c" stroke="#a2559c" stroke-width="0.3" textLength="25.6" lengthAdjust="spacingAndGlyphs">Benin</text><text x="282" y="303.9" font-size="10.5" fill="#fff" stroke="#fff" stroke-width="2.4" stroke-linejoin="round" textLength="35.6" lengthAdjust="spacingAndGlyphs">Senegal</text><text x="282" y="303.9" font-size="10.5" fill="#a2559c" stroke="#a2559c" stroke-width="0.3" textLength="35.6" lengthAdjust="spacingAndGlyphs">Senegal</text><text x="203" y="312.1" font-size="10.5" fill="#fff" stroke="#fff" stroke-width="2.4" stroke-linejoin="round" textLength="39.0" lengthAdjust="spacingAndGlyphs">Ethiopia</text><text x="203" y="312.1" font-size="10.5" fill="#a2559c" stroke="#a2559c" stroke-width="0.3" textLength="39.0" lengthAdjust="spacingAndGlyphs">Ethiopia</text><text x="253.6" y="332.9" font-size="10.5" fill="#fff" stroke="#fff" stroke-width="2.4" stroke-linejoin="round" textLength="58.4" lengthAdjust="spacingAndGlyphs">Burkina Faso</text><text x="253.6" y="332.9" font-size="10.5" fill="#a2559c" stroke="#a2559c" stroke-width="0.3" textLength="58.4" lengthAdjust="spacingAndGlyphs">Burkina Faso</text><text x="203" y="355.5" font-size="10.5" fill="#fff" stroke="#fff" stroke-width="2.4" stroke-linejoin="round" textLength="25.0" lengthAdjust="spacingAndGlyphs">Niger</text><text x="203" y="355.5" font-size="10.5" fill="#a2559c" stroke="#a2559c" stroke-width="0.3" textLength="25.0" lengthAdjust="spacingAndGlyphs">Niger</text><text x="367.6" y="117.5" font-size="10.5" fill="#fff" stroke="#fff" stroke-width="2.4" stroke-linejoin="round" textLength="57.8" lengthAdjust="spacingAndGlyphs">South Korea</text><text x="367.6" y="117.5" font-size="10.5" fill="#00847e" stroke="#00847e" stroke-width="0.3" textLength="57.8" lengthAdjust="spacingAndGlyphs">South Korea</text><text x="332" y="129" font-size="10.5" fill="#fff" stroke="#fff" stroke-width="2.4" stroke-linejoin="round" textLength="20.0" lengthAdjust="spacingAndGlyphs">Italy</text><text x="332" y="129" font-size="10.5" fill="#4c6a9c" stroke="#4c6a9c" stroke-width="0.3" textLength="20.0" lengthAdjust="spacingAndGlyphs">Italy</text><text x="390" y="136.39999999999998" font-size="10.5" fill="#fff" stroke="#fff" stroke-width="2.4" stroke-linejoin="round" textLength="31.0" lengthAdjust="spacingAndGlyphs">Poland</text><text x="390" y="136.39999999999998" font-size="10.5" fill="#4c6a9c" stroke="#4c6a9c" stroke-width="0.3" textLength="31.0" lengthAdjust="spacingAndGlyphs">Poland</text><text x="361" y="167.9" font-size="10.5" fill="#fff" stroke="#fff" stroke-width="2.4" stroke-linejoin="round" textLength="47.0" lengthAdjust="spacingAndGlyphs">Costa Rica</text><text x="361" y="167.9" font-size="10.5" fill="#e56e5a" stroke="#e56e5a" stroke-width="0.3" textLength="47.0" lengthAdjust="spacingAndGlyphs">Costa Rica</text><text x="375" y="184.79999999999998" font-size="10.5" fill="#fff" stroke="#fff" stroke-width="2.4" stroke-linejoin="round" textLength="148.4" lengthAdjust="spacingAndGlyphs">Saint Vincent and the Grenadines</text><text x="375" y="184.79999999999998" font-size="10.5" fill="#e56e5a" stroke="#e56e5a" stroke-width="0.3" textLength="148.4" lengthAdjust="spacingAndGlyphs">Saint Vincent and the Grenadines</text><text x="311.8" y="207.5" font-size="10.5" fill="#fff" stroke="#fff" stroke-width="2.4" stroke-linejoin="round" textLength="28.9" lengthAdjust="spacingAndGlyphs">Jordan</text><text x="311.8" y="207.5" font-size="10.5" fill="#00847e" stroke="#00847e" stroke-width="0.3" textLength="28.9" lengthAdjust="spacingAndGlyphs">Jordan</text><text x="396.6" y="210.9" font-size="10.5" fill="#fff" stroke="#fff" stroke-width="2.4" stroke-linejoin="round" textLength="43.8" lengthAdjust="spacingAndGlyphs">Botswana</text><text x="396.6" y="210.9" font-size="10.5" fill="#a2559c" stroke="#a2559c" stroke-width="0.3" textLength="43.8" lengthAdjust="spacingAndGlyphs">Botswana</text><text x="367.6" y="230.5" font-size="10.5" fill="#fff" stroke="#fff" stroke-width="2.4" stroke-linejoin="round" textLength="51.0" lengthAdjust="spacingAndGlyphs">Cape Verde</text><text x="367.6" y="230.5" font-size="10.5" fill="#a2559c" stroke="#a2559c" stroke-width="0.3" textLength="51.0" lengthAdjust="spacingAndGlyphs">Cape Verde</text><text x="339.6" y="247.1" font-size="10.5" fill="#fff" stroke="#fff" stroke-width="2.4" stroke-linejoin="round" textLength="36.8" lengthAdjust="spacingAndGlyphs">Namibia</text><text x="339.6" y="247.1" font-size="10.5" fill="#a2559c" stroke="#a2559c" stroke-width="0.3" textLength="36.8" lengthAdjust="spacingAndGlyphs">Namibia</text><text x="361" y="296.9" font-size="10.5" fill="#fff" stroke="#fff" stroke-width="2.4" stroke-linejoin="round" textLength="36.0" lengthAdjust="spacingAndGlyphs">Rwanda</text><text x="361" y="296.9" font-size="10.5" fill="#a2559c" stroke="#a2559c" stroke-width="0.3" textLength="36.0" lengthAdjust="spacingAndGlyphs">Rwanda</text><text x="468" y="113.6" font-size="12.2" fill="#fff" stroke="#fff" stroke-width="2.4" stroke-linejoin="round" textLength="68.0" lengthAdjust="spacingAndGlyphs">United States</text><text x="468" y="113.6" font-size="12.2" fill="#e56e5a" stroke="#e56e5a" stroke-width="0.3" textLength="68.0" lengthAdjust="spacingAndGlyphs">United States</text><text x="483" y="131.6" font-size="10.5" fill="#fff" stroke="#fff" stroke-width="2.4" stroke-linejoin="round" textLength="32.0" lengthAdjust="spacingAndGlyphs">Estonia</text><text x="483" y="131.6" font-size="10.5" fill="#4c6a9c" stroke="#4c6a9c" stroke-width="0.3" textLength="32.0" lengthAdjust="spacingAndGlyphs">Estonia</text><text x="549" y="112.5" font-size="10.5" fill="#fff" stroke="#fff" stroke-width="2.4" stroke-linejoin="round" textLength="40.7" lengthAdjust="spacingAndGlyphs">Denmark</text><text x="549" y="112.5" font-size="10.5" fill="#4c6a9c" stroke="#4c6a9c" stroke-width="0.3" textLength="40.7" lengthAdjust="spacingAndGlyphs">Denmark</text><text x="440" y="146.9" font-size="10.5" fill="#fff" stroke="#fff" stroke-width="2.4" stroke-linejoin="round" textLength="22.9" lengthAdjust="spacingAndGlyphs">Chile</text><text x="440" y="146.9" font-size="10.5" fill="#883039" stroke="#883039" stroke-width="0.3" textLength="22.9" lengthAdjust="spacingAndGlyphs">Chile</text><text x="461.6" y="164.1" font-size="10.5" fill="#fff" stroke="#fff" stroke-width="2.4" stroke-linejoin="round" textLength="37.8" lengthAdjust="spacingAndGlyphs">Uruguay</text><text x="461.6" y="164.1" font-size="10.5" fill="#883039" stroke="#883039" stroke-width="0.3" textLength="37.8" lengthAdjust="spacingAndGlyphs">Uruguay</text><text x="446.6" y="236.8" font-size="10.5" fill="#fff" stroke="#fff" stroke-width="2.4" stroke-linejoin="round" textLength="31.8" lengthAdjust="spacingAndGlyphs">Bhutan</text><text x="446.6" y="236.8" font-size="10.5" fill="#00847e" stroke="#00847e" stroke-width="0.3" textLength="31.8" lengthAdjust="spacingAndGlyphs">Bhutan</text></g>
<g font-family="Liberation Sans, sans-serif"><rect x="607.1" y="98.7" width="7.3" height="7.2" fill="#a2559c"/><text x="619.0" y="105.8" font-size="10.3" fill="#333" textLength="26.2" lengthAdjust="spacingAndGlyphs">Africa</text><rect x="607.1" y="113.3" width="7.3" height="7.2" fill="#00847e"/><text x="619.0" y="120.3" font-size="10.3" fill="#333" textLength="18.6" lengthAdjust="spacingAndGlyphs">Asia</text><rect x="607.1" y="127.9" width="7.3" height="7.2" fill="#4c6a9c"/><text x="619.0" y="135.0" font-size="10.3" fill="#333" textLength="31.3" lengthAdjust="spacingAndGlyphs">Europe</text><rect x="607.1" y="142.5" width="7.3" height="7.2" fill="#e56e5a"/><text x="619.0" y="149.6" font-size="10.3" fill="#333" textLength="65.7" lengthAdjust="spacingAndGlyphs">North America</text><rect x="607.1" y="157.1" width="7.3" height="7.2" fill="#9a5129"/><text x="619.0" y="164.2" font-size="10.3" fill="#333" textLength="36.2" lengthAdjust="spacingAndGlyphs">Oceania</text><rect x="607.1" y="171.7" width="7.3" height="7.2" fill="#883039"/><text x="619.0" y="178.8" font-size="10.3" fill="#333" textLength="65.7" lengthAdjust="spacingAndGlyphs">South America</text><line x1="607.2" y1="185.2" x2="682.7" y2="185.2" stroke="#ccc" stroke-width="1"/><circle cx="647" cy="213.4" r="14.9" fill="none" stroke="#aaa" stroke-width="0.8"/><circle cx="647" cy="218.1" r="10.2" fill="none" stroke="#aaa" stroke-width="0.8"/><text x="646.6" y="203.0" font-size="9" fill="#555" text-anchor="middle" textLength="18.6" lengthAdjust="spacingAndGlyphs" stroke="#fff" stroke-width="2.2" paint-order="stroke">1:4B</text><text x="647.0" y="212.9" font-size="8.2" fill="#555" text-anchor="middle" textLength="20.0" lengthAdjust="spacingAndGlyphs" stroke="#fff" stroke-width="2.2" paint-order="stroke">600M</text><text x="647.1" y="238.8" font-size="8.9" fill="#777" text-anchor="middle" textLength="61.4" lengthAdjust="spacingAndGlyphs">Circles sized by</text><text x="647.0" y="250.1" font-size="9.4" fill="#555" text-anchor="middle" font-weight="bold" textLength="47.9" lengthAdjust="spacingAndGlyphs">Population</text><text x="646.6" y="260.7" font-size="9.4" fill="#555" text-anchor="middle" font-weight="bold" textLength="44.1" lengthAdjust="spacingAndGlyphs">(historical</text><text x="647.1" y="270.1" font-size="9.4" fill="#555" text-anchor="middle" font-weight="bold" textLength="45.9" lengthAdjust="spacingAndGlyphs">estimates)</text></g>
<text x="13.7" y="462.9" font-size="10.8" fill="#5b5b5b" font-weight="bold" textLength="61.8" lengthAdjust="spacingAndGlyphs" font-family="Liberation Sans, sans-serif">Data source:</text>
<text x="78.6" y="462.9" font-size="10.8" fill="#5b5b5b" textLength="393.4" lengthAdjust="spacingAndGlyphs" font-family="Liberation Sans, sans-serif">UNDP, Human Development Report(2021-22); Transparency International (2018)</text>
<text x="13.7" y="477.9" font-size="10.8" fill="#5b5b5b" textLength="155.2" lengthAdjust="spacingAndGlyphs" font-family="Liberation Sans, sans-serif">OurWorldInData.org/corruption</text>
<text x="171.9" y="477.9" font-size="10.8" fill="#5b5b5b" font-family="Liberation Sans, sans-serif">|</text>
<text x="177.8" y="477.9" font-size="10.8" fill="#5b5b5b" textLength="30.7" lengthAdjust="spacingAndGlyphs" font-family="Liberation Sans, sans-serif">CC BY</text>
<rect x="13.7" y="479" width="155.2" height="0.9" fill="#5b5b5b"/>
<rect x="177.8" y="479" width="30.7" height="0.9" fill="#5b5b5b"/>
</svg>
</body></html>
